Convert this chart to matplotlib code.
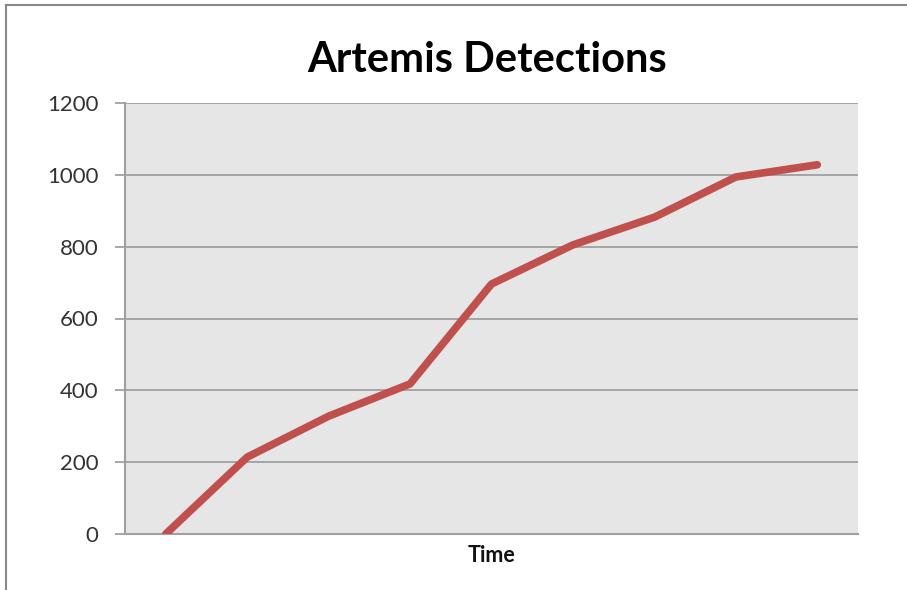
import matplotlib
matplotlib.use("Agg")
import matplotlib.pyplot as plt
from matplotlib.lines import Line2D

title = "Artemis Detections"
x_label = "Time"
detections = [0, 214, 328, 418, 696, 805, 882, 994, 1028]
y_ticks = [0, 200, 400, 600, 800, 1000, 1200]

plt.rcParams['font.family'] = ['Lato', 'DejaVu Sans']

fig = plt.figure(figsize=(9.07, 5.90), dpi=100)
ax = fig.add_axes([125/907, 1-534/590, (858-125)/907, (534-103)/590])
ax.set_facecolor('#E6E6E6')

xs = list(range(len(detections)))
ax.plot(xs, detections, color='#C0504D', linewidth=5.5, solid_capstyle='round',
        solid_joinstyle='round', zorder=3)

ax.set_xlim(-0.5, len(detections) - 0.5)
ax.set_ylim(0, 1200)
ax.set_yticks(y_ticks)
ax.set_yticklabels([str(v) for v in y_ticks], fontsize=16, color='#333333')
ax.set_xticks([])
ax.yaxis.grid(True, color='#A0A0A0', linewidth=1.3)
ax.set_axisbelow(True)
ax.tick_params(axis='y', length=7, width=1.3, color='#A0A0A0', pad=12)

for side in ['top', 'right']:
    ax.spines[side].set_visible(False)
for side in ['left', 'bottom']:
    ax.spines[side].set_color('#A0A0A0')
    ax.spines[side].set_linewidth(1.5)

ax.set_xlabel(x_label, fontsize=15.5, fontweight='bold', labelpad=8, color='#111111')
fig.text(487/907, 1-60/590, title, ha='center', va='center', fontsize=30,
         fontweight='bold', color='#000000')

# figure frame (left and top edges visible)
fig.add_artist(Line2D([6/907, 6/907], [0, 1-5/590], transform=fig.transFigure,
                      color='#888888', linewidth=1.5))
fig.add_artist(Line2D([6/907, 1], [1-5/590, 1-5/590], transform=fig.transFigure,
                      color='#888888', linewidth=1.5))

fig.savefig('out.png', dpi=100)
